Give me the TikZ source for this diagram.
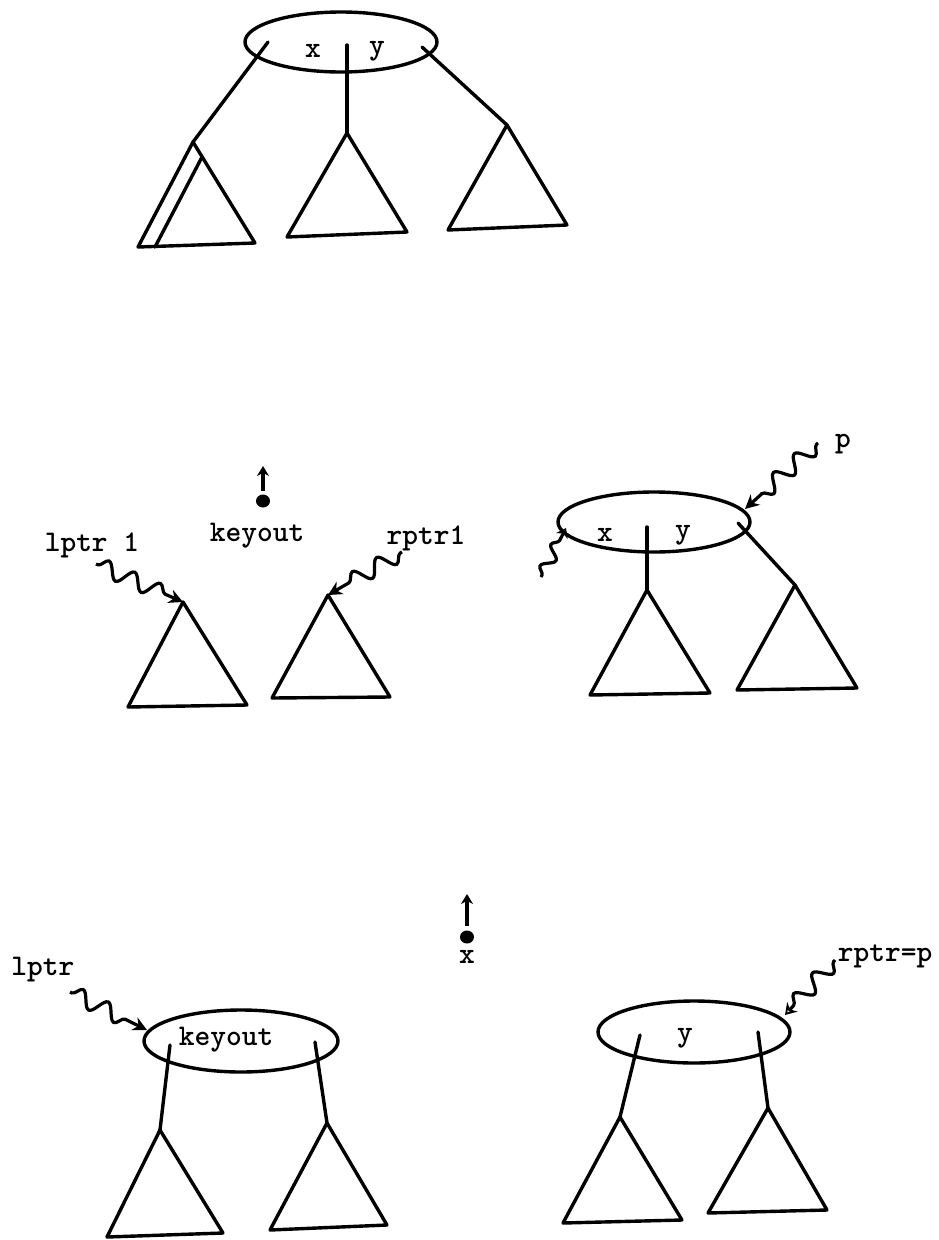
\documentclass[tikz,border=0pt]{standalone}
\usetikzlibrary{shapes.geometric,decorations.pathmorphing,arrows.meta}
\tikzset{
  edge/.style={line width=3.4pt, line join=round, line cap=round},
  knot/.style={ellipse, draw, line width=3.4pt, minimum width=192pt, minimum height=60pt, inner sep=0pt},
  lbl/.style={inner sep=0pt, font=\fontsize{30}{31}\selectfont\ttfamily\bfseries},
  wig/.style={line width=3.2pt, decorate, decoration={snake, segment length=28pt, amplitude=8pt, pre length=2pt, post length=12pt}, -{Stealth[length=14pt,width=14pt]}},
  upar/.style={line width=3.6pt, -{Stealth[length=10pt,width=12pt]}},
  blob/.style={ellipse, fill=black, minimum width=14pt, minimum height=13pt, inner sep=0pt}
}
\newcommand\mytri[3]{\draw[edge] (#1) -- (#2) -- (#3) -- cycle;}
\begin{document}
\begin{tikzpicture}[x=1pt,y=-1pt]
\useasboundingbox (0,0) rectangle (939,1240);

% ---------------- top tree ----------------
\node[knot] (E1) at (341,42) {};
\node[lbl] (E1x) at (313,51) {x};
\node[lbl] (E1y) at (377,51) {y};
\coordinate (A1) at (193,142);
\coordinate (A1l) at (138,247);
\coordinate (A1r) at (255,243);
\coordinate (A1i) at (202,157);
\coordinate (A1ib) at (155,247);
\coordinate (A2) at (347,133);
\coordinate (A2l) at (287,237);
\coordinate (A2r) at (407,232);
\coordinate (A3) at (507,125);
\coordinate (A3l) at (448,230);
\coordinate (A3r) at (567,225);
\coordinate (S1a) at (268,42);
\coordinate (S1b) at (347,45);
\coordinate (S1c) at (422,47);
\draw[edge] (S1a) -- (A1);
\draw[edge] (S1b) -- (A2);
\draw[edge] (S1c) -- (A3);
\mytri{A1}{A1l}{A1r}
\draw[edge] (A1i) -- (A1ib);
\mytri{A2}{A2l}{A2r}
\mytri{A3}{A3l}{A3r}

% ---------------- middle left ----------------
\node[blob] (dot1) at (263,501) {};
\coordinate (up1s) at (263,491);
\coordinate (up1) at (263,466);
\draw[upar] (up1s) -- (up1);
\node[lbl] (keyout1) at (257,536) {keyout};
\node[lbl] (lptr1) at (92,545) {lptr 1};
\node[lbl] (rptr1) at (426,538) {rptr1};
\coordinate (B1) at (183,602);
\coordinate (B1l) at (128,707);
\coordinate (B1r) at (247,705);
\coordinate (B2) at (328,595);
\coordinate (B2l) at (272,698);
\coordinate (B2r) at (390,697);
\mytri{B1}{B1l}{B1r}
\mytri{B2}{B2l}{B2r}
\coordinate (w1s) at (96,564);
\draw[wig] (w1s) -- (B1);
\coordinate (w2s) at (402,552);
\draw[wig] (w2s) -- (B2);

% ---------------- middle right ----------------
\node[knot] (E2) at (654,522) {};
\node[lbl] (E2x) at (605,535) {x};
\node[lbl] (E2y) at (683,535) {y};
\node[lbl] (plbl) at (843,444) {p};
\coordinate (C1) at (647,590);
\coordinate (C1l) at (590,695);
\coordinate (C1r) at (710,693);
\coordinate (C2) at (795,585);
\coordinate (C2l) at (737,690);
\coordinate (C2r) at (857,688);
\coordinate (S2b) at (647,527);
\coordinate (S2c) at (738,523);
\draw[edge] (S2b) -- (C1);
\draw[edge] (S2c) -- (C2);
\mytri{C1}{C1l}{C1r}
\mytri{C2}{C2l}{C2r}
\coordinate (w3s) at (818,443);
\coordinate (w3e) at (745,509);
\draw[wig] (w3s) -- (w3e);
\coordinate (w4s) at (541,577);
\coordinate (w4e) at (566,528);
\draw[wig, decoration={snake, segment length=24pt, amplitude=6pt, post length=8pt}, -{Stealth[length=9pt,width=13pt,open]}] (w4s) -- (w4e);

% ---------------- bottom left ----------------
\node[knot, minimum width=194pt, minimum height=62pt] (E3) at (241,1041) {};
\node[lbl] (keyout2) at (226,1040) {keyout};
\node[lbl] (lptr) at (43,970) {lptr};
\coordinate (D1) at (160,1130);
\coordinate (D1l) at (107,1237);
\coordinate (D1r) at (223,1233);
\coordinate (D2) at (327,1123);
\coordinate (D2l) at (270,1230);
\coordinate (D2r) at (387,1225);
\coordinate (S3a) at (170,1045);
\coordinate (S3b) at (315,1042);
\draw[edge] (S3a) -- (D1);
\draw[edge] (S3b) -- (D2);
\mytri{D1}{D1l}{D1r}
\mytri{D2}{D2l}{D2r}
\coordinate (w5s) at (70,992);
\coordinate (w5e) at (147,1030);
\draw[wig] (w5s) -- (w5e);

% ---------------- bottom right ----------------
\node[blob] (dot2) at (467,937) {};
\coordinate (up2s) at (467,926);
\coordinate (up2) at (467,894);
\draw[upar] (up2s) -- (up2);
\node[lbl] (xout) at (467,957) {x};
\node[knot, minimum height=62pt] (E4) at (694,1032) {};
\node[lbl] (E4y) at (685,1038) {y};
\node[lbl] (rptrp) at (885,956) {rptr=p};
\coordinate (F1) at (620,1117);
\coordinate (F1l) at (563,1223);
\coordinate (F1r) at (682,1220);
\coordinate (F2) at (768,1108);
\coordinate (F2l) at (708,1213);
\coordinate (F2r) at (827,1210);
\coordinate (S4a) at (640,1035);
\coordinate (S4b) at (758,1032);
\draw[edge] (S4a) -- (F1);
\draw[edge] (S4b) -- (F2);
\mytri{F1}{F1l}{F1r}
\mytri{F2}{F2l}{F2r}
\coordinate (w6s) at (835,960);
\coordinate (w6e) at (785,1015);
\draw[wig, -{Stealth[length=11pt,width=14pt,open]}] (w6s) -- (w6e);
\end{tikzpicture}
\end{document}
